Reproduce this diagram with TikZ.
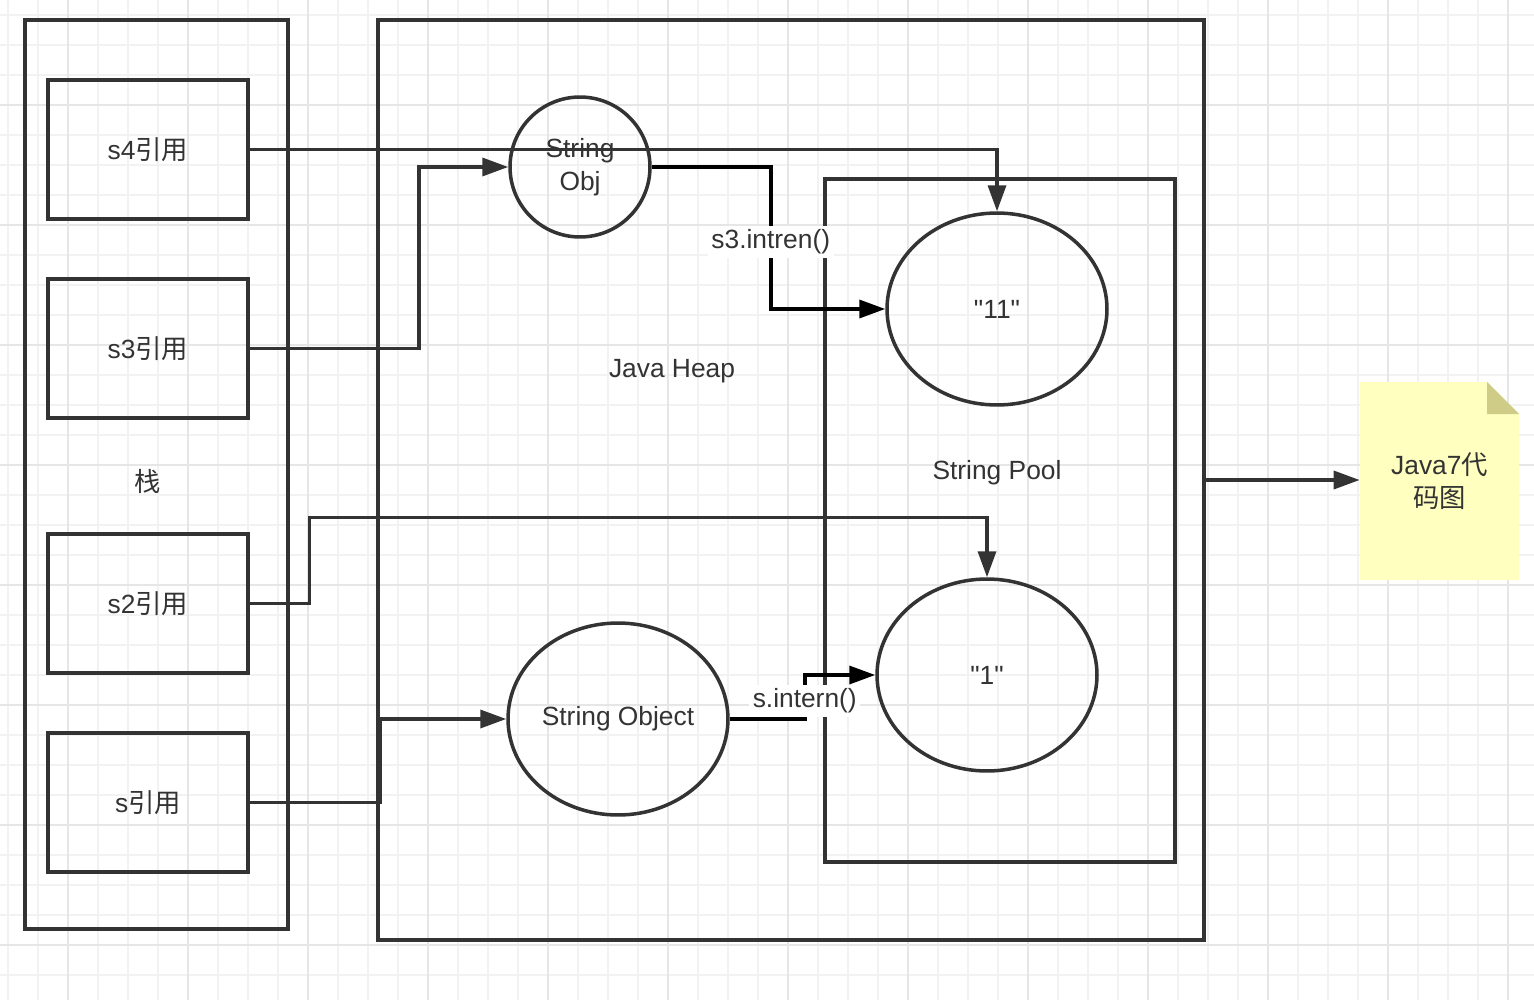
\documentclass[tikz,border=0pt]{standalone}
\usepackage{fontspec}
\setmainfont{Liberation Sans}
\newfontfamily\cjk{Noto Sans CJK SC}
\usetikzlibrary{arrows.meta,shapes.geometric}

\definecolor{linegray}{HTML}{333333}
\definecolor{gridminor}{HTML}{F2F2F2}
\definecolor{gridmajor}{HTML}{E6E6E6}
\definecolor{notefill}{HTML}{FFFFC0}
\definecolor{notefold}{HTML}{CFCC88}

\newcommand{\sq}{\XeTeXglyph\XeTeXcharglyph"0022\relax}

\tikzset{
  frame/.style={draw=linegray, line width=2pt},
  refbox/.style={frame, minimum width=4cm, minimum height=2.78cm},
  bubble/.style={frame, ellipse, inner sep=0pt, align=center,
    minimum width=4.4cm, minimum height=3.84cm},
  conn/.style={draw=linegray, line width=2pt,
    -{Triangle[length=0.52cm,width=0.36cm]}},
  callname/.style={fill=white, inner sep=2pt},
}

\begin{document}
\begin{tikzpicture}[x=0.02cm, y=-0.02cm, text=linegray,
    font=\fontsize{15pt}{18.8pt}\selectfont]

    % Draw the page and its grid
    \useasboundingbox (0,0) rectangle (1534,1000);
    \fill[white] (0,0) rectangle (1534,1000);
    \foreach \gx in {8,38,...,1534}
        \draw[gridminor, line width=0.6pt] (\gx,0) -- (\gx,1000);
    \foreach \gy in {15,45,...,1000}
        \draw[gridminor, line width=0.6pt] (0,\gy) -- (1534,\gy);
    \foreach \gx in {68,188,...,1534}
        \draw[gridmajor, line width=0.9pt] (\gx,0) -- (\gx,1000);
    \foreach \gy in {105,225,...,1000}
        \draw[gridmajor, line width=0.9pt] (0,\gy) -- (1534,\gy);

    % Draw the stack, the heap and the pool
    \node[frame, minimum width=5.26cm, minimum height=18.18cm] (stack) at (156.5,474.5) {};
    \node[frame, minimum width=16.52cm, minimum height=18.4cm] (heap) at (791,480) {};
    \node[frame, minimum width=7cm, minimum height=13.66cm] (pool) at (1000,520.5) {};
    \node (stacklbl) at (148,481) {\cjk 栈};
    \node (heaplbl) at (672,371) {Java Heap};
    \node (poollbl) at (997,473) {String Pool};

    % Draw the references on the stack
    \node[refbox] (s4) at (148,149.5) {s4{\cjk 引用}};
    \node[refbox] (s3) at (148,348.5) {s3{\cjk 引用}};
    \node[refbox] (s2) at (148,603.5) {s2{\cjk 引用}};
    \node[refbox] (s) at (148,802.5) {s{\cjk 引用}};

    % Draw the objects
    \node[bubble, minimum width=2.8cm, minimum height=2.8cm] (obj) at (580,167) {String\\Obj};
    \node[bubble] (sobj) at (618,719) {String Object};
    \node[bubble] (p11) at (997,309) {\sq 11\sq};
    \node[bubble] (p1) at (987,675) {\sq 1\sq};

    % Draw the references
    \draw[conn] (s4.east) -| (p11.north);
    \draw[conn] (s3.east) -- ++(169,0) |- (obj.west);
    \draw[conn] (s2.east) -- ++(60,0) -- ++(0,-86) -| (p1.north);
    \draw[conn] (s.east) -- ++(131,0) |- (sobj.west);

    % Finally draw the two intern calls
    \draw[conn, draw=black] (obj.east) -- ++(119,0) |- (p11.west)
        node[callname, pos=0.25, yshift=-0.08cm] (call3) {s3.intren()};
    \draw[conn, draw=black] (sobj.east) -- ++(75,0) |- (p1.west)
        node[callname, pos=0.25, yshift=-0.08cm] (call1) {s.intern()};

    % Draw the note
    \fill[notefill] (1360,382) -- (1487,382) -- (1519,414) -- (1519,580) -- (1360,580) -- cycle;
    \fill[notefold] (1487,382) -- (1519,414) -- (1487,414) -- cycle;
    \node[minimum width=3.18cm, minimum height=3.96cm, align=center] (note) at (1439.5,481)
        {Java7{\cjk 代}\\{\cjk 码图}};
    \draw[conn] (heap.east) -- (heap.east -| note.west);

\end{tikzpicture}
\end{document}
